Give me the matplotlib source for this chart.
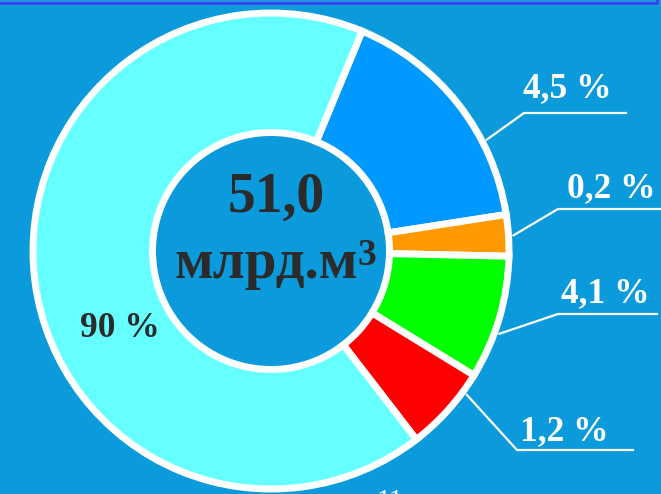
import matplotlib.pyplot as plt
from matplotlib.patches import Rectangle
import numpy as np

# доли секторов так, как они нарисованы на кольце (% окружности)
sectors = ["blue", "orange", "green", "red", "cyan"]
shares = [16.3, 2.8, 8.4, 5.8, 66.7]
pct_labels = ["4,5 %", "0,2 %", "4,1 %", "1,2 %", "90 %"]
colors = ["#0099ff", "#ff9900", "#00ff00", "#ff0000", "#66ffff"]
total_value = "51,0"
total_unit = "млрд.м"

bg = "#0b9bdc"
dark = "#2b2b2b"
font = "Liberation Serif"

fig = plt.figure(figsize=(6.61, 4.94), dpi=100, facecolor=bg)
ax = fig.add_axes([0, 0, 1, 1])

# кольцо (координаты осей = пиксели картинки)
cx, cy, R = 271, 251, 238
wedges, _ = ax.pie(shares, colors=colors, center=(cx, cy), radius=R,
                   startangle=-67.5, counterclock=True,
                   wedgeprops=dict(width=119.5, edgecolor="white", linewidth=5))
ax.set_xlim(0, 661)
ax.set_ylim(494, 0)
ax.set_aspect("auto")
ax.axis("off")

# подписи с выносками: угол точки на кольце, излом, конец полки, центр текста
leaders = [(27.3, 524, 113, 626, 567, 97),
           (3.7, 558, 209, 661, 611, 197),
           (-19.9, 558, 314, 657, 605, 302),
           (-36.3, 517, 450, 633, 564, 440)]
for lab, (a, ex, ey, hx, tx, ty) in zip(pct_labels[:4], leaders):
    r0 = R + 5
    sx = cx + r0 * np.cos(np.radians(a))
    sy = cy - r0 * np.sin(np.radians(a))
    ax.plot([sx, ex, hx], [sy, ey, ey], color="white", lw=1.6, clip_on=False)
    ax.text(tx, ty, lab, color="white", fontsize=25.5, fontweight="bold",
            family=font, ha="center", va="baseline")

ax.text(120, 337, pct_labels[4], color=dark, fontsize=25.5, fontweight="bold",
        family=font, ha="center", va="baseline")

# центр кольца
ax.text(276, 212, total_value, color=dark, fontsize=40, fontweight="bold",
        family=font, ha="center", va="baseline")
ax.text(266, 278, total_unit, color=dark, fontsize=41, fontweight="bold",
        family=font, ha="center", va="baseline")
ax.text(357, 265, "3", color=dark, fontsize=27, fontweight="bold",
        family=font, ha="left", va="baseline")

# рамка заголовка сверху и обрезанный текст снизу (в оригинале тоже обрезан)
ax.add_patch(Rectangle((-10, -10), 666.5, 13.5, facecolor="#1f93e2",
                       edgecolor="#3b3bef", lw=1.8, clip_on=False))
ax.text(390, 489, "11", color="white", fontsize=20, family=font,
        ha="center", va="top")

fig.savefig("out.png", dpi=100, facecolor=bg)
